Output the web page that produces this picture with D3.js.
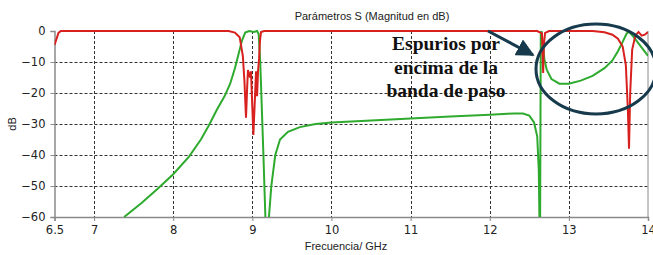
<!DOCTYPE html>
<html>
<head>
<meta charset="utf-8">
<script src="https://cdn.jsdelivr.net/npm/d3@7"></script>
<style>
  body { margin: 0; background: #fff; }
  svg { display: block; }
</style>
</head>
<body>
<div id="chart"></div>
<script>
// tick values
const xTicks = [6.5, 7, 8, 9, 10, 11, 12, 13, 14];
const yTicks = [0, -10, -20, -30, -40, -50, -60];

// S11 (red) - frequency in GHz, magnitude in dB
const redF = [6.5, 6.52, 6.55, 6.58, 8.7, 8.78, 8.84, 8.88, 8.9, 8.92, 8.935, 8.945, 8.97, 8.983, 8.996, 9.013,
  9.034, 9.047, 9.06, 9.072, 9.085, 9.097, 9.11, 9.15, 12.6, 12.66, 12.675, 12.685, 12.7, 12.75,
  13.3, 13.45, 13.55, 13.62, 13.68, 13.72, 13.745, 13.76, 13.775, 13.8, 13.84, 13.88, 13.92, 13.96, 14.0];
const redDb = [-4.5, -3, -0.6, 0, 0, -0.5, -2, -8, -16, -28, -18, -12.6, -15, -13, -22, -33.5,
  -21, -13, -21, -13, -9, -3, -0.3, 0, 0, -0.8, -13.5, -4, -0.6, 0,
  0, -0.4, -1.2, -2.5, -5, -11, -25, -38, -20, -6, -1.5, -0.3, -1.5, -1.2, -0.3];

// S21 (green)
const greenF = [7.38, 7.6, 7.8, 8.0, 8.2, 8.35, 8.45, 8.55, 8.65, 8.72, 8.78, 8.83, 8.87, 8.91, 8.96, 9.02, 9.06,
  9.08, 9.1, 9.12, 9.14, 9.165, 9.19, 9.21, 9.24, 9.29, 9.35, 9.45, 9.6, 9.8, 10.0, 10.5, 11.0, 11.5, 12.0,
  12.3, 12.42, 12.5, 12.56, 12.6, 12.62, 12.635, 12.645, 12.655, 12.67, 12.69, 12.72, 12.78, 12.88, 13.0,
  13.15, 13.3, 13.45, 13.55, 13.62, 13.68, 13.73, 13.76, 13.82, 13.88, 13.94, 14.0];
const greenDb = [-60, -55.5, -51, -46.2, -40.5, -35, -30.5, -25.5, -21, -17, -12, -7, -3, -0.5, 0, -0.3, 0,
  -1, -10, -25, -40, -60, -75, -60, -50, -40, -35, -32.5, -31, -30, -29.5, -28.9, -28.2, -27.6, -27,
  -26.6, -26.6, -27.3, -29.5, -34, -45, -75, -1, 0, -4, -9, -12.5, -15.5, -17, -17,
  -16, -14.5, -12, -9.5, -6.5, -3.5, -0.8, -0.3, -2, -4, -6, -8];

const width = 653;
const height = 255;
const plotLeft = 54.5, plotRight = 648, plotTop = 31, plotBottom = 217;

const svg = d3.select('#chart')
  .append('svg')
  .attr('width', width)
  .attr('height', height)
  .style('background', '#fff');

const x = d3.scaleLinear().domain([6.5, 14]).range([plotLeft, plotRight]);
const y = d3.scaleLinear().domain([-60, 0]).range([plotBottom, plotTop]);

const defs = svg.append('defs');
defs.append('clipPath').attr('id', 'plot')
  .append('rect')
  .attr('x', plotLeft).attr('y', plotTop - 2)
  .attr('width', plotRight - plotLeft).attr('height', plotBottom - plotTop + 2);

// grid
const grid = svg.append('g')
  .attr('stroke', '#333')
  .attr('stroke-width', 1)
  .attr('stroke-dasharray', '3,2');
grid.selectAll('.gx')
  .data(xTicks.filter((d) => d > 6.5 && d < 14))
  .enter().append('line')
  .attr('x1', (d) => Math.round(x(d)) + 0.5).attr('x2', (d) => Math.round(x(d)) + 0.5)
  .attr('y1', plotTop).attr('y2', plotBottom);
grid.selectAll('.gy')
  .data(yTicks.filter((d) => d < 0 && d > -60))
  .enter().append('line')
  .attr('y1', (d) => Math.round(y(d)) + 0.5).attr('y2', (d) => Math.round(y(d)) + 0.5)
  .attr('x1', plotLeft).attr('x2', plotRight);

// axes
const xAxis = svg.append('g')
  .attr('transform', `translate(0, ${plotBottom})`)
  .call(d3.axisBottom(x).tickValues(xTicks).tickSize(4).tickPadding(5).tickFormat(d3.format('')));
const yAxis = svg.append('g')
  .attr('transform', `translate(${plotLeft}, 0)`)
  .call(d3.axisLeft(y).tickValues(yTicks).tickSize(4).tickPadding(5));

[xAxis, yAxis].forEach((a) => {
  a.selectAll('.domain').attr('stroke', '#8a8a8a').attr('stroke-width', 1.5);
  a.selectAll('.tick line').attr('stroke', '#8a8a8a');
  a.selectAll('text')
    .attr('font-family', 'DejaVu Sans, Verdana, sans-serif')
    .attr('font-size', 11.5)
    .attr('fill', '#222');
});

// right border
svg.append('line')
  .attr('x1', plotRight).attr('x2', plotRight)
  .attr('y1', plotTop).attr('y2', plotBottom)
  .attr('stroke', '#8a8a8a');

// curves
const line = d3.line()
  .x((d) => x(d[0]))
  .y((d) => y(d[1]));

const plot = svg.append('g').attr('clip-path', 'url(#plot)');

plot.append('path')
  .datum(greenF.map((f, i) => [f, greenDb[i]]))
  .attr('d', line)
  .attr('fill', 'none')
  .attr('stroke', '#2eaa2e')
  .attr('stroke-width', 2);

plot.append('path')
  .datum(redF.map((f, i) => [f, redDb[i]]))
  .attr('d', line)
  .attr('fill', 'none')
  .attr('stroke', '#d8201e')
  .attr('stroke-width', 2);

// titles
svg.append('text')
  .attr('x', 372).attr('y', 20)
  .attr('text-anchor', 'middle')
  .attr('font-family', 'Liberation Sans, Arial, sans-serif')
  .attr('font-size', 11)
  .attr('fill', '#222')
  .text('Parámetros S (Magnitud en dB)');

svg.append('text')
  .attr('x', 346).attr('y', 250)
  .attr('text-anchor', 'middle')
  .attr('font-family', 'Liberation Sans, Arial, sans-serif')
  .attr('font-size', 11)
  .attr('fill', '#222')
  .text('Frecuencia/ GHz');

svg.append('text')
  .attr('transform', 'translate(16, 124) rotate(-90)')
  .attr('text-anchor', 'middle')
  .attr('font-family', 'Liberation Sans, Arial, sans-serif')
  .attr('font-size', 11)
  .attr('fill', '#222')
  .text('dB');

// annotation
const navy = '#173a4c';
defs.append('marker')
  .attr('id', 'arrow')
  .attr('viewBox', '0 0 10 10')
  .attr('refX', 9).attr('refY', 5)
  .attr('markerWidth', 6).attr('markerHeight', 6)
  .attr('markerUnits', 'strokeWidth')
  .attr('orient', 'auto')
  .append('path')
  .attr('d', 'M0,0 L10,5 L0,10 z')
  .attr('fill', navy);

svg.append('line')
  .attr('x1', 488).attr('y1', 31)
  .attr('x2', 533).attr('y2', 55)
  .attr('stroke', navy)
  .attr('stroke-width', 3)
  .attr('marker-end', 'url(#arrow)');

svg.append('ellipse')
  .attr('cx', 596).attr('cy', 69)
  .attr('rx', 60).attr('ry', 45)
  .attr('fill', 'none')
  .attr('stroke', navy)
  .attr('stroke-width', 3);

const note = ['Espurios por', 'encima de la', 'banda de paso'];
svg.append('g')
  .selectAll('text')
  .data(note)
  .enter().append('text')
  .attr('x', 446)
  .attr('y', (d, i) => 50 + i * 23.5)
  .attr('text-anchor', 'middle')
  .attr('font-family', 'Liberation Serif, Times New Roman, serif')
  .attr('font-weight', 'bold')
  .attr('font-size', 19.5)
  .attr('fill', '#111')
  .text((d) => d);
</script>
</body>
</html>
